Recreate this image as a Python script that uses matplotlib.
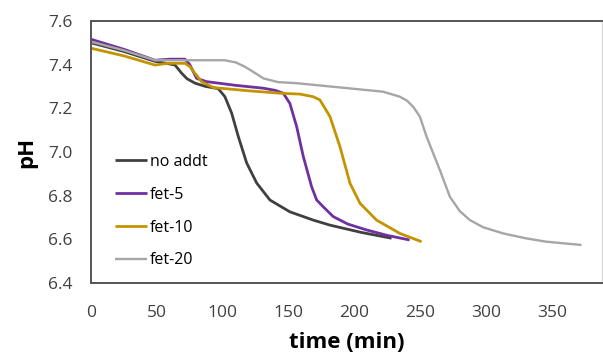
import numpy as np
import matplotlib.pyplot as plt

plt.rcParams['font.family'] = ['Open Sans', 'DejaVu Sans']

# time (min) and pH for each run
t_none = [0, 25, 48.6, 58, 63.8, 68.9, 73, 79, 87, 96.6, 101.7, 106.8, 111.9, 118.2, 125.8,
          135.9, 151, 168.8, 181.5, 205, 228.3]
ph_none = [7.50, 7.46, 7.415, 7.405, 7.398, 7.36, 7.335, 7.315, 7.30, 7.29, 7.253, 7.178, 7.07,
           6.95, 6.858, 6.78, 6.726, 6.688, 6.665, 6.632, 6.605]

t_fet5 = [0, 25, 48.6, 60, 71.4, 75, 80.2, 87.8, 110, 130.9, 140, 146, 151, 156.2, 161.2,
          167.6, 171.4, 176.4, 184, 195, 209.3, 225, 242]
ph_fet5 = [7.516, 7.47, 7.42, 7.425, 7.425, 7.40, 7.337, 7.322, 7.305, 7.292, 7.282, 7.269, 7.223,
           7.116, 6.98, 6.84, 6.78, 6.749, 6.704, 6.67, 6.643, 6.618, 6.597]

t_fet10 = [0, 25, 48.6, 58.5, 71.4, 75.2, 79, 84, 92.9, 101.7, 120, 143.5, 158.7, 168.8, 173.9,
           181.5, 189.1, 196.7, 204.3, 216.9, 234.6, 251.1]
ph_fet10 = [7.475, 7.44, 7.398, 7.406, 7.406, 7.39, 7.36, 7.322, 7.295, 7.29, 7.28, 7.269, 7.265,
            7.253, 7.238, 7.162, 7.024, 6.857, 6.765, 6.688, 6.627, 6.589]

t_fet20 = [0, 25, 48.6, 75, 101.7, 110, 117, 125, 130.9, 142, 156.2, 181.5, 221.9, 234.6, 240,
           244.7, 249.8, 254.9, 265, 272.6, 280, 287.8, 298, 313.1, 330, 346, 372.6]
ph_fet20 = [7.505, 7.465, 7.42, 7.42, 7.42, 7.41, 7.39, 7.36, 7.337, 7.32, 7.315, 7.30, 7.276,
            7.253, 7.235, 7.207, 7.162, 7.07, 6.917, 6.795, 6.73, 6.688, 6.655, 6.627, 6.605, 6.589, 6.574]

fig = plt.figure(figsize=(6.03, 3.58), dpi=100)
ax = fig.add_axes([0.151, 0.2095, 0.847, 0.732])

kw = dict(solid_joinstyle='round', solid_capstyle='butt')
ax.plot(t_none, ph_none, color='#404040', lw=2.0, label='no addt', **kw)
ax.plot(t_fet5, ph_fet5, color='#7030A0', lw=2.0, label='fet-5', **kw)
ax.plot(t_fet10, ph_fet10, color='#C39400', lw=2.0, label='fet-10', **kw)
ax.plot(t_fet20, ph_fet20, color='#A6A6A6', lw=1.7, label='fet-20', **kw)

ax.set_xlim(0, 388)
ax.set_ylim(6.4, 7.6)
ax.set_xticks(np.arange(0, 351, 50))
ax.set_yticks(np.arange(6.4, 7.61, 0.2))
ax.set_yticklabels(['6.4', '6.6', '6.8', '7.0', '7.2', '7.4', '7.6'])
ax.tick_params(length=0, labelsize=12.5, colors='#404040')
ax.tick_params(axis='y', pad=13)
ax.tick_params(axis='x', pad=16)
for s in ax.spines.values():
    s.set_color('#555555')
    s.set_linewidth(1.4)
ax.spines['right'].set_color('#D9D9D9')
ax.spines['right'].set_linewidth(1.0)

ax.set_xlabel('time (min)', fontsize=16, fontweight='bold', labelpad=8)
ax.set_ylabel('pH', fontsize=16, fontweight='bold', labelpad=8)

ax.legend(loc='upper left', bbox_to_anchor=(0.047, 0.492), frameon=False,
          borderpad=0, borderaxespad=0, fontsize=11.5, handlelength=2.0,
          handletextpad=0.2, labelspacing=1.05)

fig.savefig('out.png', dpi=100)
